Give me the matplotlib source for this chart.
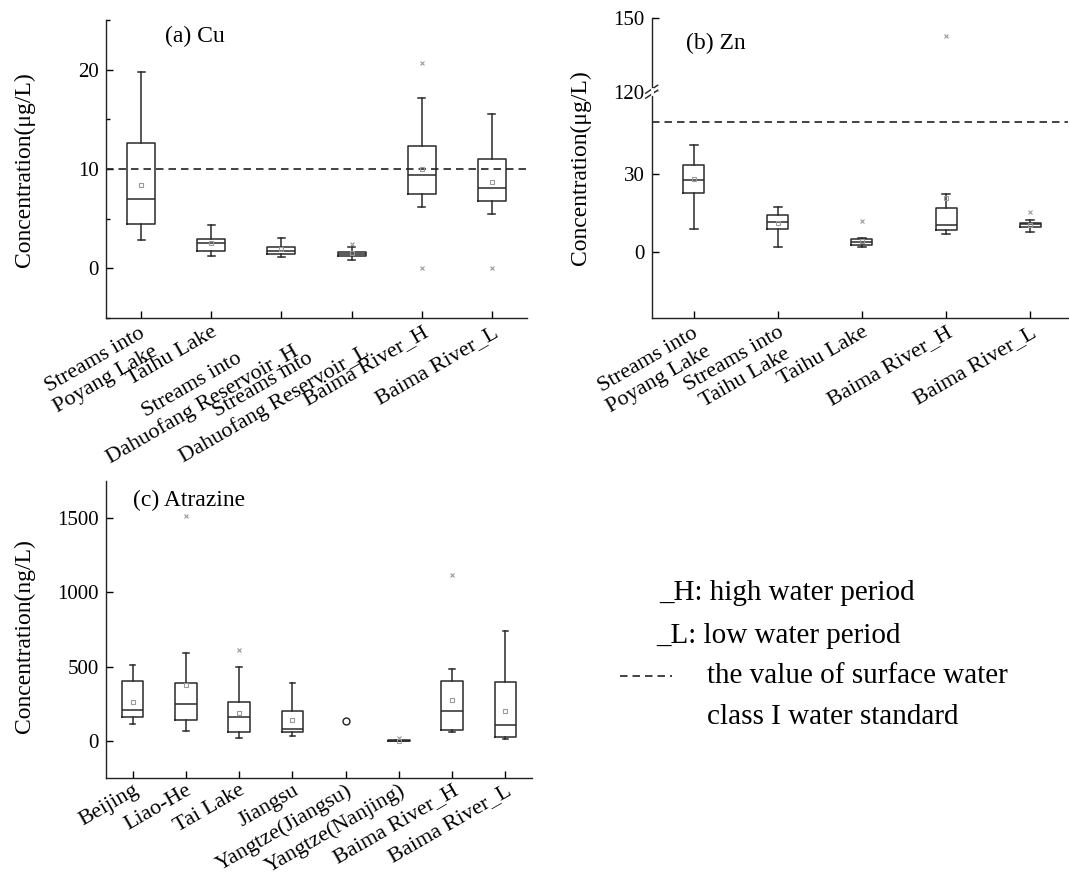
import matplotlib
matplotlib.use('Agg')
import matplotlib.pyplot as plt
from matplotlib.lines import Line2D
from matplotlib.ticker import AutoMinorLocator

plt.rcParams['font.family'] = ['Liberation Serif', 'DejaVu Serif']
plt.rcParams['xtick.direction'] = 'in'
plt.rcParams['ytick.direction'] = 'in'

# --- (a) Cu, ug/L ---
CU_LABELS = ['Streams into\nPoyang Lake', 'Taihu Lake', 'Streams into\nDahuofang Reservoir_H',
             'Streams into\nDahuofang Reservoir_L', 'Baima River_H', 'Baima River_L']
CU_WHISLO = [2.85, 1.2, 1.1, 0.8, 6.2, 5.5]
CU_Q1 = [4.5, 1.7, 1.4, 1.2, 7.5, 6.8]
CU_MED = [7.0, 2.6, 1.75, 1.45, 9.4, 8.1]
CU_Q3 = [12.6, 3.0, 2.1, 1.6, 12.3, 11.0]
CU_WHISHI = [19.8, 4.4, 3.1, 2.1, 17.1, 15.5]
CU_MEAN = [8.4, 2.6, 1.9, 1.5, 10.0, 8.7]
CU_FLIERS = [[], [], [], [2.5], [20.7, 0.0], [0.0]]
CU_STANDARD = 10

# --- (b) Zn, ug/L ---
ZN_LABELS = ['Streams into\nPoyang Lake', 'Streams into\nTaihu Lake', 'Taihu Lake',
             'Baima River_H', 'Baima River_L']
ZN_WHISLO = [8.6, 1.9, 1.9, 6.7, 7.6]
ZN_Q1 = [22.5, 8.6, 2.6, 8.4, 9.4]
ZN_MED = [27.6, 11.6, 3.7, 10.2, 10.7]
ZN_Q3 = [33.6, 14.0, 5.0, 16.9, 11.2]
ZN_WHISHI = [41.1, 17.1, 5.2, 22.3, 12.2]
ZN_MEAN = [28.0, 11.0, 4.0, 20.8, 10.3]
ZN_FLIERS = [[], [], [11.7], [142.7], [15.3]]
ZN_STANDARD = 50

# --- (c) Atrazine, ng/L ---
ATZ_LABELS = ['Beijing', 'Liao-He', 'Tai Lake', 'Jiangsu', 'Yangtze(Jiangsu)',
              'Yangtze(Nanjing)', 'Baima River_H', 'Baima River_L']
ATZ_BOX_IDX = [0, 1, 2, 3, 5, 6, 7]
ATZ_WHISLO = [118, 67, 20, 31, 0, 58, 11]
ATZ_Q1 = [159, 139, 60, 58, 0, 76, 29]
ATZ_MED = [210, 248, 165, 80, 2, 199, 107]
ATZ_Q3 = [407, 393, 266, 199, 5, 402, 395]
ATZ_WHISHI = [514, 594, 498, 389, 6, 485, 742]
ATZ_MEAN = [266, 380, 190, 141, 3, 277, 203]
ATZ_FLIERS = [[], [1510], [610], [], [18], [1113], []]
ATZ_SINGLE_IDX = [4]
ATZ_SINGLE_VAL = [134]

W, H = 1069, 876
fig = plt.figure(figsize=(W / 100, H / 100), dpi=100)


def rect(left, top, right, bottom):
    return [left / W, 1 - bottom / H, (right - left) / W, (bottom - top) / H]


def make_stats(lo, q1, med, q3, hi, mean, fliers):
    return [dict(whislo=a, q1=b, med=c, q3=d, whishi=e, mean=f, fliers=g)
            for a, b, c, d, e, f, g in zip(lo, q1, med, q3, hi, mean, fliers)]


LINE = '#2a2a2a'
GREY = '#9a9a9a'


def draw_boxes(ax, stats, positions, width):
    ax.bxp(stats, positions=positions, widths=width, capwidths=0.1,
           showmeans=True, manage_ticks=False,
           boxprops=dict(color=LINE, lw=1.1),
           whiskerprops=dict(color=LINE, lw=1.1),
           capprops=dict(color=LINE, lw=1.1),
           medianprops=dict(color=LINE, lw=1.1),
           meanprops=dict(marker='s', ms=3, mfc='none', mec=GREY, mew=0.8),
           flierprops=dict(marker='x', ms=3.5, mec=GREY, mew=0.8))


def style(ax, labels, pad=3.5):
    for s in ['top', 'right']:
        ax.spines[s].set_visible(False)
    for s in ['left', 'bottom']:
        ax.spines[s].set_linewidth(1.0)
        ax.spines[s].set_color('#222222')
    ax.tick_params(axis='y', labelsize=15, length=5, width=1.0, pad=5)
    ax.tick_params(axis='x', labelsize=16, length=5, width=1.0, pad=pad)
    if labels is not None:
        ax.set_xticks(range(1, len(labels) + 1))
        ax.set_xticklabels(labels, rotation=30, ha='right', va='top',
                           rotation_mode='anchor', multialignment='center')


def dashed(ax, y):
    ax.axhline(y, color='#222222', lw=1.2, linestyle=(0, (4.5, 3)))


# (a)
ax_a = fig.add_axes(rect(106, 20, 527, 318))
draw_boxes(ax_a, make_stats(CU_WHISLO, CU_Q1, CU_MED, CU_Q3, CU_WHISHI, CU_MEAN, CU_FLIERS),
           list(range(1, len(CU_LABELS) + 1)), 0.4)
dashed(ax_a, CU_STANDARD)
ax_a.set_xlim(0.5, 6.5)
ax_a.set_ylim(-5, 25)
ax_a.set_yticks([0, 10, 20])
ax_a.yaxis.set_minor_locator(AutoMinorLocator(2))
ax_a.tick_params(axis='y', which='minor', length=3, width=1.0)
style(ax_a, CU_LABELS)
ax_a.text(0.14, 0.945, '(a) Cu', transform=ax_a.transAxes, fontsize=17, va='center')
fig.text(24 / W, 1 - 170 / H, 'Concentration(μg/L)', rotation=90, fontsize=17,
         ha='center', va='center')

# (b) broken axis
ax_bt = fig.add_axes(rect(651.7, 18.3, 1068, 91.7))
ax_b = fig.add_axes(rect(651.7, 91.7, 1068, 318))
zn_stats = make_stats(ZN_WHISLO, ZN_Q1, ZN_MED, ZN_Q3, ZN_WHISHI, ZN_MEAN, ZN_FLIERS)
for ax in (ax_bt, ax_b):
    draw_boxes(ax, zn_stats, list(range(1, len(ZN_LABELS) + 1)), 0.25)
    dashed(ax, ZN_STANDARD)
    ax.set_xlim(0.5, 5.45)
ax_bt.set_ylim(120, 150)
ax_bt.set_yticks([120, 150])
ax_b.set_ylim(-25.6, 61.8)
ax_b.set_yticks([0, 30])
style(ax_b, ZN_LABELS)
style(ax_bt, None)
ax_bt.spines['bottom'].set_visible(False)
ax_bt.set_xticks([])
ax_bt.text(0.083, 0.66, '(b) Zn', transform=ax_bt.transAxes, fontsize=17, va='center')
fig.text(580 / W, 1 - 168 / H, 'Concentration(μg/L)', rotation=90, fontsize=17,
         ha='center', va='center')
# break marks on the left spine
bx, by = 651.7, 91.7
for dy in (-2.5, 2.5):
    fig.add_artist(Line2D([(bx - 6) / W, (bx + 6) / W],
                          [1 - (by + dy + 4) / H, 1 - (by + dy - 4) / H],
                          color='#222222', lw=1.0))
fig.add_artist(Line2D([bx / W, bx / W], [1 - (by + 2.5) / H, 1 - (by - 2.5) / H],
                      color='white', lw=2.0))

# (c)
ax_c = fig.add_axes(rect(106, 480.7, 532, 778.3))
draw_boxes(ax_c, make_stats(ATZ_WHISLO, ATZ_Q1, ATZ_MED, ATZ_Q3, ATZ_WHISHI, ATZ_MEAN, ATZ_FLIERS),
           [i + 1 for i in ATZ_BOX_IDX], 0.4)
ax_c.plot([i + 1 for i in ATZ_SINGLE_IDX], ATZ_SINGLE_VAL, 'o', ms=5, mfc='none',
          mec='#222222', mew=1.0)
ax_c.set_xlim(0.5, 8.5)
ax_c.set_ylim(-250, 1750)
ax_c.set_yticks([0, 500, 1000, 1500])
style(ax_c, ATZ_LABELS, pad=2)
ax_c.text(0.063, 0.935, '(c) Atrazine', transform=ax_c.transAxes, fontsize=17, va='center')
fig.text(24 / W, 1 - 636 / H, 'Concentration(ng/L)', rotation=90, fontsize=17,
         ha='center', va='center')

# notes
fig.text(659 / W, 1 - 593 / H, '_H: high water period', fontsize=21, va='center')
fig.text(656 / W, 1 - 636 / H, '_L: low water period', fontsize=21, va='center')
fig.add_artist(Line2D([620 / W, 672 / W], [1 - 676 / H, 1 - 676 / H], color='#222222',
                      lw=1.2, linestyle=(0, (4.5, 3))))
fig.text(707 / W, 1 - 676 / H, 'the value of surface water', fontsize=21, va='center')
fig.text(707 / W, 1 - 717 / H, 'class I water standard', fontsize=21, va='center')

fig.savefig('out.png', dpi=100)
